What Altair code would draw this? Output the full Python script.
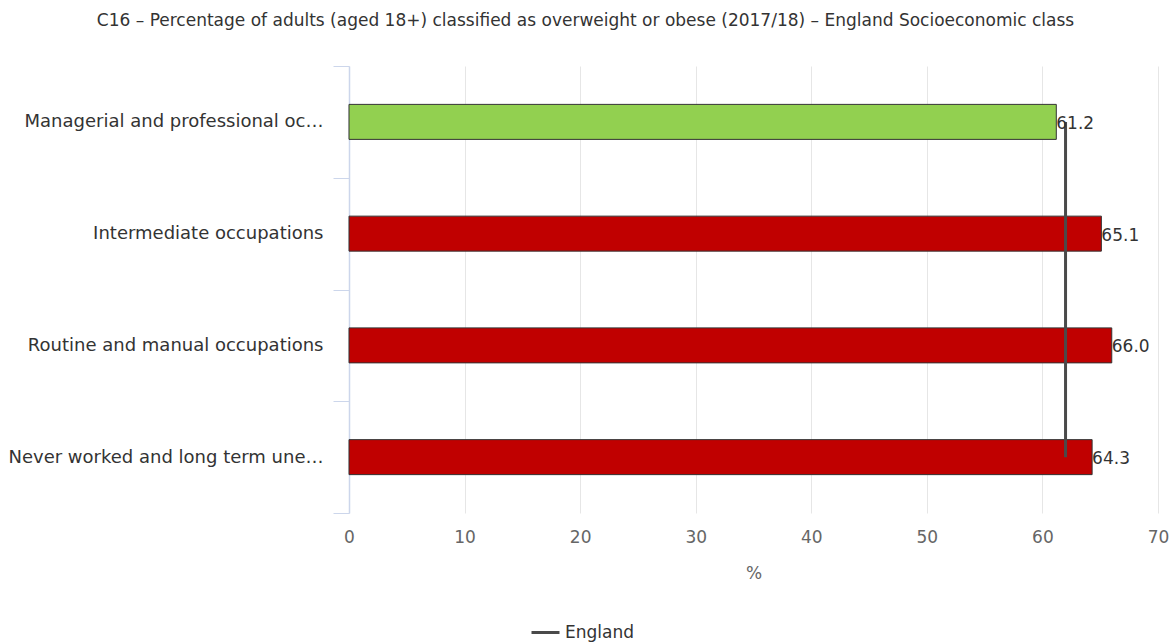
import altair as alt
import pandas as pd

categories = [
    "Managerial and professional oc\u2026",
    "Intermediate occupations",
    "Routine and manual occupations",
    "Never worked and long term une\u2026",
]
values = [61.2, 65.1, 66.0, 64.3]
significance = ["Better", "Worse", "Worse", "Worse"]
england_value = 62.0
england_points = [categories[0], categories[-1]]

bars_df = pd.DataFrame({"category": categories, "value": values, "sig": significance})
eng_df = pd.DataFrame({
    "category": england_points,
    "value": [england_value] * len(england_points),
    "series": ["England"] * len(england_points),
})

FONT = "DejaVu Sans"

y_enc = alt.Y(
    "category:N",
    sort=categories,
    title=None,
    scale=alt.Scale(paddingInner=0, paddingOuter=0),
    axis=alt.Axis(
        tickBand="extent",
        tickSize=16,
        tickColor="#ccd6eb",
        domainColor="#ccd6eb",
        domainWidth=1.5,
        labelPadding=10,
        labelFontSize=18,
        labelColor="#333333",
        labelFont=FONT,
        labelLimit=400,
        grid=False,
    ),
)

x_enc = alt.X(
    "value:Q",
    title="%",
    scale=alt.Scale(domain=[0, 70], nice=False),
    axis=alt.Axis(
        values=[0, 10, 20, 30, 40, 50, 60, 70],
        domain=False,
        ticks=False,
        grid=True,
        gridColor="#e6e6e6",
        labelFontSize=17,
        labelColor="#666666",
        labelFont=FONT,
        labelPadding=16,
        labelFlush=False,
        titleFontSize=17,
        titleColor="#666666",
        titleFont=FONT,
        titleFontWeight="normal",
        titlePadding=20,
    ),
)

bars = alt.Chart(bars_df).mark_bar(size=35, stroke="#333333", strokeWidth=1).encode(
    y=y_enc,
    x=x_enc,
    color=alt.Color(
        "sig:N",
        scale=alt.Scale(domain=["Better", "Worse"], range=["#92d050", "#c00000"]),
        legend=None,
    ),
)

labels = alt.Chart(bars_df).mark_text(
    align="left", baseline="middle", dx=0, dy=2, fontSize=17, color="#333333", font=FONT
).encode(
    y=alt.Y("category:N", sort=categories),
    x=alt.X("value:Q"),
    text=alt.Text("value:Q", format=".1f"),
)

england = alt.Chart(eng_df).mark_line(strokeWidth=3).encode(
    y=alt.Y("category:N", sort=categories),
    x=alt.X("value:Q"),
    stroke=alt.Stroke(
        "series:N",
        scale=alt.Scale(domain=["England"], range=["#4a4a4a"]),
        legend=alt.Legend(
            title=None,
            orient="none",
            legendX=181,
            legendY=551,
            symbolType="stroke",
            symbolSize=784,
            symbolStrokeWidth=3,
            labelFontSize=17,
            labelColor="#333333",
            labelFont=FONT,
        ),
    ),
)

chart = (
    alt.layer(bars, england, labels)
    .resolve_scale(color="independent", stroke="independent")
    .properties(
        width=809,
        height=447,
        padding={"left": 349, "top": 66, "right": 13, "bottom": 131},
        autosize=alt.AutoSizeParams(type="none"),
        title=alt.TitleParams(
            "C16 \u2013 Percentage of adults (aged 18+) classified as overweight or obese (2017/18) \u2013 England Socioeconomic class",
            fontSize=17,
            font=FONT,
            fontWeight="normal",
            color="#333333",
            anchor="middle",
            dx=-168,
            offset=27,
        ),
    )
    .configure_view(stroke=None)
)

chart.save("out.html", embed_options={"renderer": "svg", "actions": False})
